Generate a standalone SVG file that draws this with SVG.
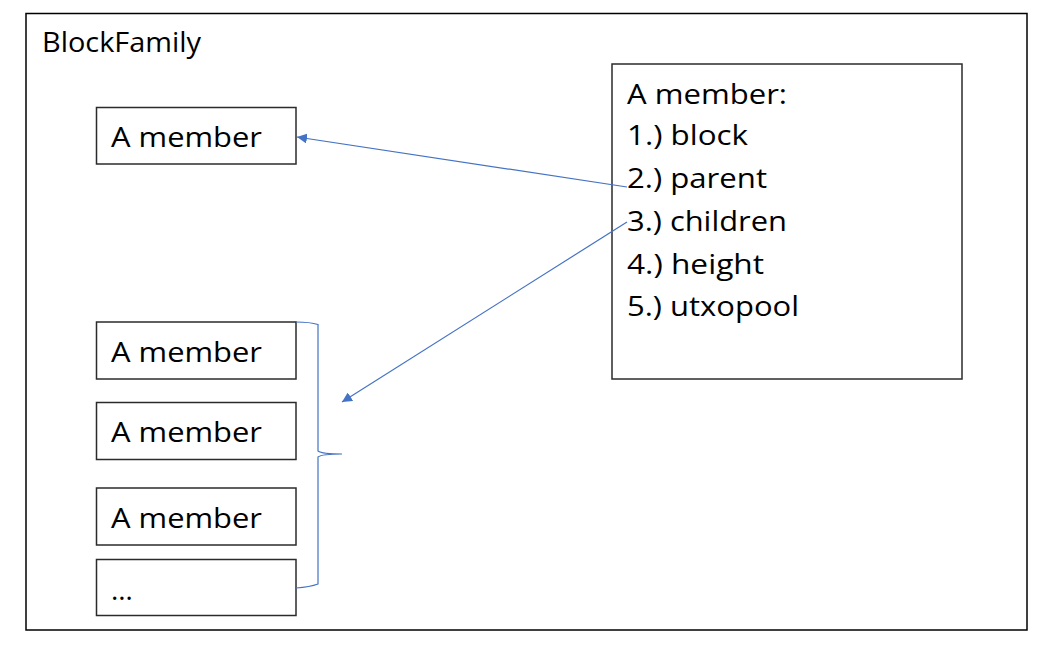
<svg xmlns="http://www.w3.org/2000/svg" width="1056" height="656" viewBox="0 0 1056 656">
<style>
.box{fill:#fff;stroke:#2b2b2b;stroke-width:1.5}
.t{font-family:"Open Sans","Liberation Sans",sans-serif;font-size:28px;fill:#000}
.c{fill:none;stroke:#4472c4;stroke-width:1.2}
</style>
<defs>
<marker id="ah" viewBox="0 0 10 10" refX="10" refY="5" markerWidth="10" markerHeight="10" markerUnits="userSpaceOnUse" orient="auto">
<path d="M0,0 L10,5 L0,10 z" fill="#4472c4"/>
</marker>
</defs>
<rect width="1056" height="656" fill="#fff"/>
<g id="frame">
<rect x="26" y="13.5" width="1001" height="616.5" fill="none" stroke="#000" stroke-width="1.5"/>
<text class="t" x="42" y="52" textLength="159" lengthAdjust="spacingAndGlyphs">BlockFamily</text>
</g>
<g id="detail">
<rect class="box" x="612" y="64" width="350" height="315"/>
<text class="t" x="627" y="104" textLength="160" lengthAdjust="spacingAndGlyphs">A member:</text>
<text class="t" x="627" y="145" textLength="121" lengthAdjust="spacingAndGlyphs">1.) block</text>
<text class="t" x="627" y="188" textLength="140" lengthAdjust="spacingAndGlyphs">2.) parent</text>
<text class="t" x="627" y="231" textLength="160" lengthAdjust="spacingAndGlyphs">3.) children</text>
<text class="t" x="627" y="274" textLength="137" lengthAdjust="spacingAndGlyphs">4.) height</text>
<text class="t" x="627" y="316" textLength="172" lengthAdjust="spacingAndGlyphs">5.) utxopool</text>
</g>
<g id="member1">
<rect class="box" x="96.5" y="107.5" width="199.5" height="56.5"/>
<text class="t" x="111" y="147" textLength="151" lengthAdjust="spacingAndGlyphs">A member</text>
</g>
<g id="member2">
<rect class="box" x="96.5" y="322" width="199.5" height="57"/>
<text class="t" x="111" y="362" textLength="151" lengthAdjust="spacingAndGlyphs">A member</text>
</g>
<g id="member3">
<rect class="box" x="96.5" y="402.5" width="199.5" height="57"/>
<text class="t" x="111" y="442" textLength="151" lengthAdjust="spacingAndGlyphs">A member</text>
</g>
<g id="member4">
<rect class="box" x="96.5" y="488" width="199.5" height="57"/>
<text class="t" x="111" y="528" textLength="151" lengthAdjust="spacingAndGlyphs">A member</text>
</g>
<g id="more">
<rect class="box" x="96.5" y="559.5" width="199.5" height="56"/>
<text class="t" x="111" y="600">…</text>
</g>
<g id="connectors">
<path class="c" d="M296,322 Q310,322 318,324.5 L318,451 Q322,454 342,454 Q322,454 318,457 L318,584 Q310,587 296,588"/>
<line class="c" x1="627" y1="187" x2="297" y2="137" marker-end="url(#ah)"/>
<line class="c" x1="627" y1="222" x2="342" y2="402" marker-end="url(#ah)"/>
</g>
</svg>
